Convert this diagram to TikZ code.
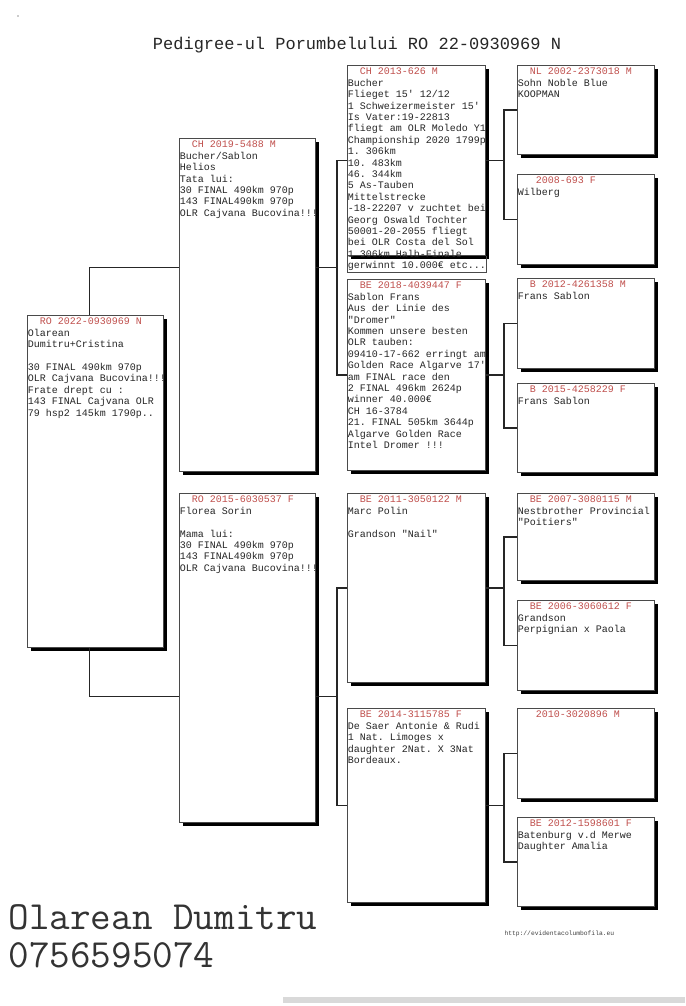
\documentclass[tikz,border=0pt]{standalone}
\usepackage{fontspec}
\setmonofont{Liberation Mono}
\usetikzlibrary{calc, shadows}
\definecolor{idred}{HTML}{C0504D}
\definecolor{ink}{HTML}{262626}
\definecolor{frame}{HTML}{4A4A4A}

\newcommand{\idl}[2][12pt]{\hspace*{#1}\textcolor{idred}{#2}}

\begin{document}
\begin{tikzpicture}[x=1pt, y=-1pt,
  pbox/.style={draw=frame, line width=0.8pt, fill=white, anchor=north west, inner sep=0pt,
    drop shadow={shadow xshift=3.5pt, shadow yshift=-3.5pt, fill=black, opacity=1}},
  ptext/.style={anchor=north west, align=left, inner xsep=0.6pt, inner ysep=3pt,
    font=\ttfamily\fontsize{10}{11.4}\selectfont, text=ink},
  link/.style={draw=black!85, line width=1.3pt}]

% Page
\useasboundingbox (0,0) rectangle (685,1006);
\fill[white] (0,0) rectangle (685,1006);
\fill[black!15] (283,997) rectangle (685,1003);
\fill[black!40] (18,16) circle (0.8);

% Title
\node[font=\ttfamily\fontsize{17}{20}\selectfont, text=black!85] (title) at (357,45)
  {Pedigree-ul Porumbelului RO 22-0930969 N};

% --- Boxes ---

% Pigeon
\node[pbox, minimum width=136pt, minimum height=332pt] (root) at (27,315) {};

% Parents
\node[pbox, minimum width=136pt, minimum height=333pt] (sire) at (179,138) {};
\node[pbox, minimum width=136pt, minimum height=329pt] (dam) at (179,493) {};

% Grandparents
\node[pbox, minimum width=138pt, minimum height=190pt] (g3a) at (347,65) {};
\node[pbox, minimum width=138pt, minimum height=191pt] (g3b) at (347,279) {};
\node[pbox, minimum width=138pt, minimum height=189pt] (g3c) at (347,493) {};
\node[pbox, minimum width=138pt, minimum height=194pt] (g3d) at (347,708) {};

% Great-grandparents
\node[pbox, minimum width=137pt, minimum height=89pt] (g4a) at (517,65) {};
\node[pbox, minimum width=137pt, minimum height=90pt] (g4b) at (517,174) {};
\node[pbox, minimum width=137pt, minimum height=90pt] (g4c) at (517,278) {};
\node[pbox, minimum width=137pt, minimum height=89pt] (g4d) at (517,383) {};
\node[pbox, minimum width=137pt, minimum height=87pt] (g4e) at (517,493) {};
\node[pbox, minimum width=137pt, minimum height=90pt] (g4f) at (517,600) {};
\node[pbox, minimum width=137pt, minimum height=90pt] (g4g) at (517,708) {};
\node[pbox, minimum width=137pt, minimum height=89pt] (g4h) at (517,817) {};

% --- Texts ---

\node[ptext] (root-t) at (root.north west) {\idl{RO 2022-0930969 N}\\Olarean\\Dumitru+Cristina\\[11.4pt]
  30 FINAL 490km 970p\\OLR Cajvana Bucovina!!!\\Frate drept cu :\\143 FINAL Cajvana OLR\\79 hsp2 145km 1790p..};

\node[ptext] (sire-t) at (sire.north west) {\idl{CH 2019-5488 M}\\Bucher/Sablon\\Helios\\Tata lui:\\
  30 FINAL 490km 970p\\143 FINAL490km 970p\\OLR Cajvana Bucovina!!!};
\node[ptext] (dam-t) at (dam.north west) {\idl{RO 2015-6030537 F}\\Florea Sorin\\[11.4pt]Mama lui:\\
  30 FINAL 490km 970p\\143 FINAL490km 970p\\OLR Cajvana Bucovina!!!};

% text of g3a runs past its box
\draw[frame, line width=0.6pt] (g3a.south west) -- ++(0,16) -| (g3a.south east);
\node[ptext] (g3a-t) at (g3a.north west) {\idl{CH 2013-626 M}\\Bucher\\Flieget 15' 12/12\\
  1 Schweizermeister 15'\\Is Vater:19-22813\\fliegt am OLR Moledo Y1\\Championship 2020 1799p\\
  1. 306km\\10. 483km\\46. 344km\\5 As-Tauben\\Mittelstrecke\\-18-22207 v zuchtet bei\\
  Georg Oswald Tochter\\50001-20-2055 fliegt\\bei OLR Costa del Sol\\1 306km Halb-Finale\\
  gerwinnt 10.000€ etc...};
\node[ptext] (g3b-t) at (g3b.north west) {\idl{BE 2018-4039447 F}\\Sablon Frans\\Aus der Linie des\\
  "Dromer"\\Kommen unsere besten\\OLR tauben:\\09410-17-662 erringt am\\Golden Race Algarve 17'\\
  am FINAL race den\\2 FINAL 496km 2624p\\winner 40.000€\\CH 16-3784\\21. FINAL 505km 3644p\\
  Algarve Golden Race\\Intel Dromer !!!};
\node[ptext] (g3c-t) at (g3c.north west) {\idl{BE 2011-3050122 M}\\Marc Polin\\[11.4pt]Grandson "Nail"};
\node[ptext] (g3d-t) at (g3d.north west) {\idl{BE 2014-3115785 F}\\De Saer Antonie \& Rudi\\
  1 Nat. Limoges x\\daughter 2Nat. X 3Nat\\Bordeaux.};

\node[ptext] (g4a-t) at (g4a.north west) {\idl{NL 2002-2373018 M}\\Sohn Noble Blue\\KOOPMAN};
\node[ptext] (g4b-t) at (g4b.north west) {\idl[18pt]{2008-693 F}\\Wilberg};
\node[ptext] (g4c-t) at (g4c.north west) {\idl{B 2012-4261358 M}\\Frans Sablon};
\node[ptext] (g4d-t) at (g4d.north west) {\idl{B 2015-4258229 F}\\Frans Sablon};
\node[ptext] (g4e-t) at (g4e.north west) {\idl{BE 2007-3080115 M}\\Nestbrother Provincial\\"Poitiers"};
\node[ptext] (g4f-t) at (g4f.north west) {\idl{BE 2006-3060612 F}\\Grandson\\Perpignian x Paola};
\node[ptext] (g4g-t) at (g4g.north west) {\idl[18pt]{2010-3020896 M}};
\node[ptext] (g4h-t) at (g4h.north west) {\idl{BE 2012-1598601 F}\\Batenburg v.d Merwe\\Daughter Amalia};

% --- Connectors ---

\coordinate (sf) at ($(g3a.west)!0.5!(g3b.west)$);
\coordinate (df) at ($(g3c.west)!0.5!(g3d.west)$);

% pigeon to parents
\draw[link] ([xshift=-6pt]root.north) |- (sire.west |- sf);
\draw[link] ([xshift=-6pt]root.south) |- (dam.west |- df);

% parents to grandparents
\draw[link] (sire.east |- sf) -- ([xshift=-10pt]g3a.west |- sf);
\draw[link] (g3a.west) -- ++(-10,0) |- (g3b.west);
\draw[link] (dam.east |- df) -- ([xshift=-10pt]g3c.west |- df);
\draw[link] (g3c.west) -- ++(-10,0) |- (g3d.west);

% grandparents to great-grandparents
\draw[link] (g4a.west) -- ++(-13,0) |- (g4b.west);
\draw[link] (g3a.east) -- ([xshift=-13pt]g4a.west |- g3a.east);
\draw[link] (g4c.west) -- ++(-13,0) |- (g4d.west);
\draw[link] (g3b.east) -- ([xshift=-13pt]g4c.west |- g3b.east);
\draw[link] (g4e.west) -- ++(-13,0) |- (g4f.west);
\draw[link] (g3c.east) -- ([xshift=-13pt]g4e.west |- g3c.east);
\draw[link] (g4g.west) -- ++(-13,0) |- (g4h.west);
\draw[link] (g3d.east) -- ([xshift=-13pt]g4g.west |- g3d.east);

% Owner and site
\node[font=\fontfamily{lmtt}\fontsize{40}{44}\selectfont, text=black!80, anchor=west] (owner) at (5,917) {Olarean Dumitru};
\node[font=\fontfamily{lmtt}\fontsize{40}{44}\selectfont, text=black!80, anchor=west] (phone) at (5,955) {0756595074};
\node[font=\ttfamily\fontsize{6.3}{7}\selectfont, text=black!75, anchor=west] (site) at (501,934) {http://evidentacolumbofila.eu};

\end{tikzpicture}
\end{document}
